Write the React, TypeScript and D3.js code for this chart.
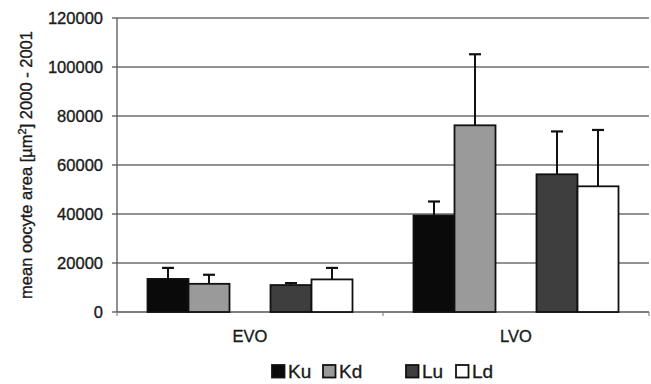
import React from "react";
import * as d3 from "d3";

// Oocyte area by stage and site, 2000–2001
const groups = ["EVO", "LVO"];
const seriesKeys = ["Ku", "Kd", "", "Lu", "Ld"]; // "" is an empty spacer slot
const seriesNames = ["Ku", "Kd", "Lu", "Ld"];
const seriesFill: Record<string, string> = {
  Ku: "#0a0a0a",
  Kd: "#9a9a9a",
  Lu: "#3e3e3e",
  Ld: "#ffffff",
};
const meanEVO = [13500, 11500, 11000, 13300];
const meanLVO = [39400, 76200, 56200, 51300];
const sdEVO = [4500, 3700, 800, 4700];
const sdLVO = [5700, 29000, 17500, 23000];
const yTicks = [0, 20000, 40000, 60000, 80000, 100000, 120000];

const means: Record<string, number[]> = { EVO: meanEVO, LVO: meanLVO };
const sds: Record<string, number[]> = { EVO: sdEVO, LVO: sdLVO };

export default function App() {
  const W = 651;
  const H = 384;
  const left = 117;
  const right = 649;
  const top = 18;
  const bottom = 312;
  const font = "'Liberation Sans', Arial, sans-serif";
  const ink = "#1a1a1a";
  const textStroke = { stroke: ink, strokeWidth: 0.35 };

  const y = d3.scaleLinear().domain([0, 120000]).range([bottom, top]);
  const x0 = d3.scaleBand().domain(groups).range([left, right]);
  const bw = x0.bandwidth();
  const x1 = d3
    .scaleBand()
    .domain(seriesKeys)
    .range([30.5, bw - 30.5]);

  // legend layout: spacer entry between Kd and Lu
  const legendX: Record<string, number> = { Ku: 271, Kd: 322, Lu: 405, Ld: 455 };

  return (
    <svg
      width={W}
      height={H}
      style={{ position: "absolute", left: 0, top: 0, background: "#fff" }}
      fontFamily={font}
    >
      <rect x={0} y={0} width={W} height={H} fill="#fff" />
      {/* gridlines */}
      {yTicks
        .filter((t) => t > 0)
        .map((t) => (
          <line
            key={"g" + t}
            x1={left}
            x2={right}
            y1={y(t)}
            y2={y(t)}
            stroke="#6e6e6e"
            strokeWidth={1.6}
          />
        ))}
      {/* y axis */}
      <line x1={left} x2={left} y1={top} y2={bottom} stroke="#555" strokeWidth={1.3} />
      {yTicks.map((t) => (
        <g key={"t" + t}>
          <line x1={left - 5} x2={left} y1={y(t)} y2={y(t)} stroke="#555" strokeWidth={1.3} />
          <text
            x={103}
            y={y(t)}
            dy="0.36em"
            textAnchor="end"
            fontSize={16.5}
            fill={ink}
            {...textStroke}
          >
            {t}
          </text>
        </g>
      ))}
      {/* x axis */}
      <line x1={left} x2={right} y1={bottom} y2={bottom} stroke="#555" strokeWidth={1.3} />
      {[left, left + bw, right].map((v, i) => (
        <line key={"xt" + i} x1={v} x2={v} y1={bottom} y2={bottom + 4} stroke="#777" strokeWidth={1} />
      ))}
      {groups.map((g) => (
        <text
          key={"c" + g}
          x={(x0(g) as number) + bw / 2}
          y={342}
          textAnchor="middle"
          fontSize={16.5}
          fill={ink}
          {...textStroke}
        >
          {g}
        </text>
      ))}
      {/* bars and error bars */}
      {groups.map((g) =>
        seriesNames.map((s, i) => {
          const bx = (x0(g) as number) + (x1(s) as number);
          const w = x1.bandwidth();
          const m = means[g][i];
          const e = m + sds[g][i];
          const cx = bx + w / 2;
          return (
            <g key={g + s}>
              <line x1={cx} x2={cx} y1={y(m)} y2={y(e)} stroke="#111" strokeWidth={2} />
              <line x1={cx - 6} x2={cx + 6} y1={y(e)} y2={y(e)} stroke="#111" strokeWidth={2.2} />
              <rect
                x={bx}
                y={y(m)}
                width={w}
                height={bottom - y(m)}
                fill={seriesFill[s]}
                stroke="#111"
                strokeWidth={1.8}
              />
            </g>
          );
        })
      )}
      {/* y title */}
      <text
        transform={`translate(32,165) rotate(-90)`}
        textAnchor="middle"
        fontSize={16.5}
        fill={ink}
        {...textStroke}
      >
        mean oocyte area [µm
        <tspan dy={-6} fontSize={11}>2</tspan>
        <tspan dy={6}>] 2000 - 2001</tspan>
      </text>
      {/* legend */}
      {seriesNames.map((s) => (
        <g key={"l" + s}>
          <rect
            x={legendX[s] + 1}
            y={365}
            width={12.5}
            height={12.5}
            fill={seriesFill[s]}
            stroke="#111"
            strokeWidth={1.8}
          />
          <text x={legendX[s] + 17} y={378} fontSize={19} fill={ink} {...textStroke}>
            {s}
          </text>
        </g>
      ))}
    </svg>
  );
}
